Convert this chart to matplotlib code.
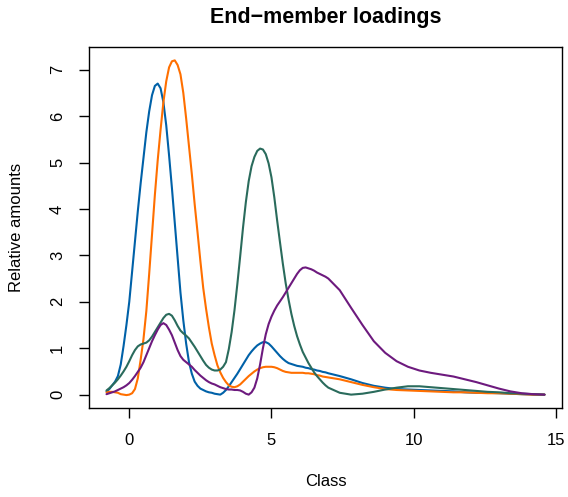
import matplotlib
matplotlib.use("Agg")
import matplotlib.pyplot as plt

plt.rcParams['font.family'] = ['Liberation Sans', 'DejaVu Sans']

# grain-size classes: 0.1 steps over the peaks, 0.4 steps in the tail
grain_class = [round(-0.8 + 0.1 * i, 1) for i in range(79)] + \
              [7.4, 7.8, 8.2, 8.6, 9.0, 9.4, 9.8, 10.2, 10.6, 11.0,
               11.4, 11.8, 12.2, 12.6, 13.0, 13.4, 13.8, 14.2, 14.6]

em_blue = [0.07, 0.12, 0.2, 0.28, 0.4, 0.65, 1.05, 1.5, 2.0, 2.65,
           3.3, 3.95, 4.55, 5.1, 5.65, 6.1, 6.45, 6.65, 6.7, 6.6,
           6.3, 5.8, 5.15, 4.45, 3.7, 2.95, 2.2, 1.6, 1.1, 0.7,
           0.45, 0.28, 0.19, 0.13, 0.1, 0.07, 0.05, 0.04, 0.02, 0.01,
           0.0, 0.04, 0.1, 0.18, 0.27, 0.36, 0.45, 0.55, 0.65, 0.75,
           0.85, 0.93, 1.0, 1.06, 1.1, 1.13, 1.13, 1.1, 1.04, 0.97,
           0.9, 0.83, 0.77, 0.72, 0.68, 0.66, 0.64, 0.62, 0.61, 0.6,
           0.58, 0.57, 0.55, 0.54, 0.52, 0.51, 0.49, 0.48, 0.46,
           0.4, 0.33, 0.25, 0.19, 0.15, 0.12, 0.11, 0.1, 0.09, 0.08,
           0.07, 0.05, 0.04, 0.04, 0.03, 0.02, 0.01, 0.0, 0.0]

em_orange = [0.05, 0.06, 0.06, 0.05, 0.04, 0.01, 0.0, -0.01, 0.0, 0.03,
             0.12, 0.35, 0.75, 1.2, 1.8, 2.6, 3.45, 4.3, 5.05, 5.7,
             6.3, 6.75, 7.05, 7.18, 7.2, 7.1, 6.9, 6.5, 5.95, 5.35,
             4.75, 4.1, 3.5, 2.88, 2.3, 1.85, 1.45, 1.1, 0.85, 0.63,
             0.48, 0.36, 0.27, 0.2, 0.17, 0.16, 0.18, 0.22, 0.28, 0.34,
             0.4, 0.45, 0.5, 0.54, 0.57, 0.59, 0.6, 0.6, 0.6, 0.59,
             0.57, 0.54, 0.51, 0.49, 0.48, 0.47, 0.47, 0.47, 0.47, 0.47,
             0.46, 0.46, 0.45, 0.44, 0.42, 0.41, 0.39, 0.38, 0.37,
             0.33, 0.27, 0.21, 0.16, 0.12, 0.1, 0.09, 0.08, 0.07, 0.06,
             0.05, 0.05, 0.04, 0.03, 0.03, 0.02, 0.01, 0.0, 0.0]

em_green = [0.09, 0.14, 0.2, 0.26, 0.33, 0.41, 0.5, 0.6, 0.72, 0.85,
            0.96, 1.04, 1.08, 1.1, 1.12, 1.17, 1.25, 1.35, 1.45, 1.55,
            1.65, 1.72, 1.74, 1.7, 1.6, 1.48, 1.38, 1.32, 1.27, 1.21,
            1.12, 1.03, 0.93, 0.83, 0.73, 0.64, 0.58, 0.54, 0.52, 0.52,
            0.54, 0.6, 0.7, 0.98, 1.35, 1.82, 2.38, 2.98, 3.6, 4.15,
            4.6, 4.92, 5.12, 5.25, 5.3, 5.28, 5.18, 4.98, 4.68, 4.25,
            3.75, 3.28, 2.82, 2.4, 2.05, 1.74, 1.48, 1.26, 1.08, 0.92,
            0.8, 0.68, 0.58, 0.48, 0.4, 0.33, 0.26, 0.2, 0.15,
            0.04, 0.0, 0.02, 0.06, 0.11, 0.15, 0.18, 0.18, 0.16, 0.14,
            0.12, 0.1, 0.08, 0.06, 0.05, 0.03, 0.02, 0.01, 0.0]

em_purple = [0.01, 0.03, 0.05, 0.07, 0.1, 0.13, 0.16, 0.2, 0.25, 0.32,
             0.4, 0.49, 0.58, 0.7, 0.85, 1.0, 1.15, 1.28, 1.4, 1.5,
             1.54, 1.5, 1.4, 1.28, 1.12, 0.96, 0.83, 0.75, 0.7, 0.65,
             0.6, 0.53, 0.47, 0.41, 0.36, 0.31, 0.27, 0.24, 0.22, 0.19,
             0.16, 0.14, 0.12, 0.11, 0.11, 0.1, 0.1, 0.09, 0.06, 0.02,
             0.0, 0.05, 0.15, 0.35, 0.65, 1.0, 1.3, 1.52, 1.68, 1.81,
             1.92, 2.01, 2.1, 2.2, 2.3, 2.4, 2.5, 2.6, 2.68, 2.73,
             2.74, 2.72, 2.7, 2.67, 2.63, 2.6, 2.57, 2.54, 2.5,
             2.25, 1.87, 1.5, 1.15, 0.9, 0.72, 0.6, 0.52, 0.47, 0.43,
             0.39, 0.33, 0.27, 0.2, 0.13, 0.07, 0.03, 0.01, 0.0]

loadings = [em_blue, em_orange, em_green, em_purple]
colours = ['#0061A8', '#FF6F00', '#2A6B5C', '#6D1A7E']

fig = plt.figure(figsize=(5.68, 4.97), dpi=100)
ax = fig.add_axes([89 / 568, 1 - 408 / 497, (562 - 89) / 568, (408 - 47) / 497])

for vals, col in zip(loadings, colours):
    ax.plot(grain_class, vals, color=col, lw=1.5,
            solid_joinstyle='round', solid_capstyle='round')

# R-style 4% padding around the data range
xr = max(grain_class) - min(grain_class)
yr = max(max(v) for v in loadings)
ax.set_xlim(min(grain_class) - 0.04 * xr, max(grain_class) + 0.04 * xr)
ax.set_ylim(-0.04 * yr, yr * 1.04)

ax.set_xticks([0, 5, 10, 15])
ax.set_yticks(range(8))
ax.tick_params(direction='out', length=7.2, width=1.0, labelsize=12)
ax.tick_params(axis='x', pad=10.8)
ax.tick_params(axis='y', pad=10)
for lab in ax.get_yticklabels():
    lab.set_rotation(90)
    lab.set_va('center')
for sp in ax.spines.values():
    sp.set_linewidth(1.0)

ax.set_xlabel('Class', fontsize=12)
ax.set_ylabel('Relative amounts', fontsize=12)
ax.xaxis.set_label_coords(0.5, -0.183)
ax.yaxis.set_label_coords(-0.138, 0.5)
fig.text(325.5 / 568, 1 - 17 / 497, 'End\u2212member loadings',
         fontsize=15.5, fontweight='bold', ha='center', va='center')

fig.savefig('out.png', dpi=100)
